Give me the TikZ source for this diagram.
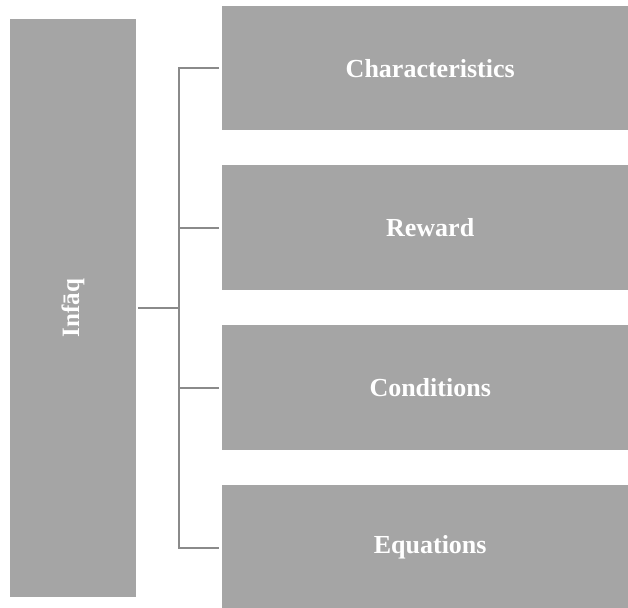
\documentclass[tikz,border=0pt]{standalone}
\usepackage{fontspec}
\setmainfont{Liberation Serif}
\definecolor{boxgray}{HTML}{A5A5A5}
\definecolor{linegray}{HTML}{8A8A8A}
\begin{document}
\begin{tikzpicture}[x=1pt,y=-1pt,
  boxstyle/.style={fill=boxgray,draw=none,inner sep=0pt,font=\bfseries\fontsize{26}{31}\selectfont,text=white},
  linkstyle/.style={draw=linegray,line width=2pt}]
\useasboundingbox (0,0) rectangle (628,607);
\node[boxstyle,minimum width=125.5pt,minimum height=578pt,anchor=north west] (root) at (10,19) {};
\node[font=\bfseries\fontsize{25}{30}\selectfont,text=white,rotate=90] (rootlabel) at (root.center) {Infāq};
\node[boxstyle,minimum width=416pt,minimum height=124pt,anchor=north west] (c1) at (222,6) {Characteristics};
\node[boxstyle,minimum width=416pt,minimum height=125pt,anchor=north west] (c2) at (222,165) {Reward};
\node[boxstyle,minimum width=416pt,minimum height=125pt,anchor=north west] (c3) at (222,325) {Conditions};
\node[boxstyle,minimum width=416pt,minimum height=125pt,anchor=north west] (c4) at (222,485) {Equations};
\coordinate (bus) at (178.5,307.5);
\draw[linkstyle] ([xshift=2pt]root.east |- bus) -- (bus);
\draw[linkstyle] ([xshift=-3pt]c1.west) -| ([xshift=-43.5pt]c4.west) -- ([xshift=-3pt]c4.west);
\draw[linkstyle] ([xshift=-3pt]c2.west) -- ([xshift=-43.5pt]c2.west);
\draw[linkstyle] ([xshift=-3pt]c3.west) -- ([xshift=-43.5pt]c3.west);
\end{tikzpicture}
\end{document}
